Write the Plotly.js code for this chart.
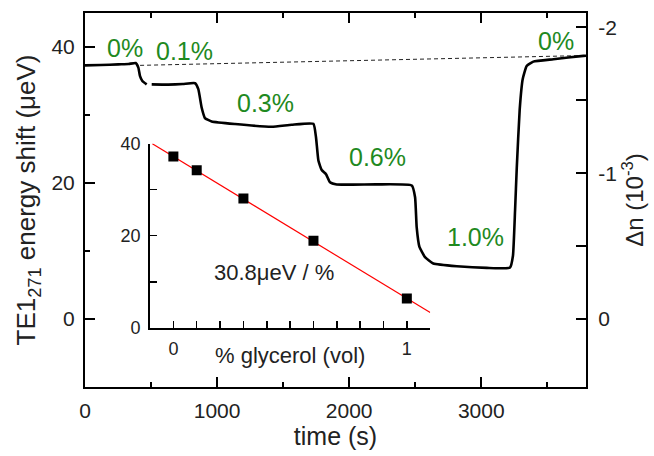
<!DOCTYPE html>
<html>
<head>
<meta charset="utf-8">
<script src="https://cdn.plot.ly/plotly-3.0.1.min.js"></script>
<style>
  html, body { margin: 0; padding: 0; background: #fff; }
  #chart { width: 654px; height: 456px; }
</style>
</head>
<body>
<div id="chart"></div>
<script>
// Main time trace (time in s, energy shift in µeV)
const time = [0, 120, 252, 330, 384, 404, 416, 434, 467, null, 505, 631, 740, 833, 858, 883, 908, 959, 1136, 1413, 1565, 1729, 1749, 1767, 1792, 1825, 1855, 1906, 2209, 2474, 2499, 2511, 2532, 2574, 2637, 2815, 3042, 3218, 3240, 3256, 3269, 3291, 3314, 3344, 3394, 3546, 3773, 3793];
const shift = [37.3, 37.35, 37.45, 37.5, 37.65, 36.96, 35.75, 35.0, 34.5, null, 34.5, 34.47, 34.55, 34.67, 33.8, 31.1, 29.55, 29.05, 28.67, 28.27, 28.57, 28.7, 26.7, 23.3, 21.9, 21.3, 20.1, 19.78, 19.8, 19.63, 17.9, 13.5, 10.6, 9.1, 8.16, 7.76, 7.52, 7.57, 9.3, 16.0, 22.3, 30.8, 35.3, 37.2, 37.85, 38.2, 38.7, 38.72];

// Baseline (dashed)
const baseTime = [417, 3793];
const baseShift = [37.3, 38.75];

// Concentration labels
const concLabels = ['0%', '0.1%', '0.3%', '0.6%', '1.0%', '0%'];
const concTime = [303, 757, 1370, 2211, 2953, 3566];
const concShift = [39.85, 39.4, 31.8, 23.8, 12.05, 40.9];

// Inset: shift vs glycerol concentration
const glycerol = [0, 0.1, 0.3, 0.6, 1.0];
const insetShift = [37.2, 34.2, 28.1, 18.9, 6.4];
const fitX = [-0.09, 1.1];
const fitY = [39.97, 3.32];

const FONT = 'Liberation Sans, Arial, Helvetica, sans-serif';
const green = '#1f8a1f';

const traces = [
  { x: baseTime, y: baseShift, mode: 'lines', line: { color: '#222', width: 1, dash: '4px,3px' }, xaxis: 'x', yaxis: 'y', hoverinfo: 'skip' },
  { x: time, y: shift, mode: 'lines', line: { color: '#000', width: 2.6, shape: 'spline', smoothing: 0.4 }, xaxis: 'x', yaxis: 'y', connectgaps: false },
  { x: [null], y: [null], xaxis: 'x', yaxis: 'y2', mode: 'lines', hoverinfo: 'skip' },
  { x: fitX, y: fitY, mode: 'lines', line: { color: '#ff0000', width: 1.2 }, xaxis: 'x3', yaxis: 'y3' },
  { x: glycerol, y: insetShift, mode: 'markers', marker: { symbol: 'square', size: 10, color: '#000' }, xaxis: 'x3', yaxis: 'y3' }
];

const annotations = concLabels.map((t, i) => ({
  text: t, x: concTime[i], y: concShift[i], xref: 'x', yref: 'y',
  xanchor: 'center', yanchor: 'middle',
  showarrow: false, font: { family: FONT, size: 25, color: green }
}));
annotations.push({
  text: '30.8μeV / %', x: 0.433, y: 12.1, xref: 'x3', yref: 'y3', showarrow: false,
  xanchor: 'center', yanchor: 'middle',
  font: { family: FONT, size: 22, color: '#222' }
});
annotations.push({
  text: '% glycerol (vol)', x: 0.409, y: 0.083, xref: 'paper', yref: 'paper', showarrow: false,
  xanchor: 'center', yanchor: 'middle',
  font: { family: FONT, size: 22, color: '#222' }
});

const axisCommon = {
  showline: true, linecolor: '#000', linewidth: 2, ticks: 'inside', tickcolor: '#000',
  tickwidth: 2, showgrid: false, zeroline: false, tickfont: { family: FONT, size: 21, color: '#222' }
};

const layout = {
  width: 654, height: 456,
  margin: { l: 85, r: 68, t: 13, b: 69 },
  paper_bgcolor: '#fff', plot_bgcolor: 'rgba(0,0,0,0)',
  showlegend: false,
  font: { family: FONT, color: '#222' },
  xaxis: Object.assign({}, axisCommon, {
    range: [0, 3793], tickmode: 'linear', tick0: 0, dtick: 1000, ticklen: 10, mirror: 'ticks',
    minor: { dtick: 500, ticklen: 5, ticks: 'inside', tickwidth: 2, tickcolor: '#000' },
    ticklabelstandoff: 4,
    title: { text: 'time (s)', font: { family: FONT, size: 25, color: '#222' }, standoff: 4 }
  }),
  yaxis: Object.assign({}, axisCommon, {
    range: [-10, 45], tickmode: 'linear', tick0: 0, dtick: 20, ticklen: 10,
    minor: { dtick: 10, ticklen: 5, ticks: 'inside', tickwidth: 2, tickcolor: '#000' },
    ticklabelstandoff: 4,
    title: { text: 'TE1<sub>271</sub> energy shift (μeV)', font: { family: FONT, size: 26, color: '#222' }, standoff: 8 }
  }),
  yaxis2: Object.assign({}, axisCommon, {
    overlaying: 'y', side: 'right', anchor: 'x',
    range: [0.466, -2.099], tickmode: 'array', tickvals: [-2, -1, 0], ticktext: ['-2', '-1', '0'], ticklen: 10,
    minor: { tickmode: 'array', tickvals: [-1.5, -0.5], ticklen: 10, ticks: 'inside', tickwidth: 2, tickcolor: '#000' },
    ticklabelstandoff: 6,
    title: { text: 'Δn (10<sup>-3</sup>)', font: { family: FONT, size: 24, color: '#222' }, standoff: 10 }
  }),
  xaxis3: {
    domain: [0.1298, 0.689], anchor: 'y3', range: [-0.1, 1.1],
    showline: true, linecolor: '#000', linewidth: 2, ticks: 'inside', tickcolor: '#000', tickwidth: 1.5, ticklen: 7,
    tickmode: 'array', tickvals: [0, 1], ticktext: ['0', '1'],
    minor: { tickmode: 'array', tickvals: [0.1, 0.2, 0.3, 0.4, 0.5, 0.6, 0.7, 0.8, 0.9, 1.1], ticklen: 7, ticks: 'inside', tickwidth: 1.5, tickcolor: '#000' },
    showgrid: false, zeroline: false, ticklabelstandoff: 3,
    tickfont: { family: FONT, size: 18, color: '#222' }
  },
  yaxis3: {
    domain: [0.158, 0.651], anchor: 'x3', range: [0, 40],
    showline: true, linecolor: '#000', linewidth: 2, ticks: 'inside', tickcolor: '#000', tickwidth: 1.5, ticklen: 7,
    tickmode: 'linear', tick0: 0, dtick: 20,
    minor: { dtick: 10, ticklen: 7, ticks: 'inside', tickwidth: 1.5, tickcolor: '#000' },
    showgrid: false, zeroline: false, ticklabelstandoff: 4,
    tickfont: { family: FONT, size: 18, color: '#222' }
  },
  annotations: annotations
};

Plotly.newPlot('chart', traces, layout, { staticPlot: true, displayModeBar: false });
</script>
</body>
</html>
